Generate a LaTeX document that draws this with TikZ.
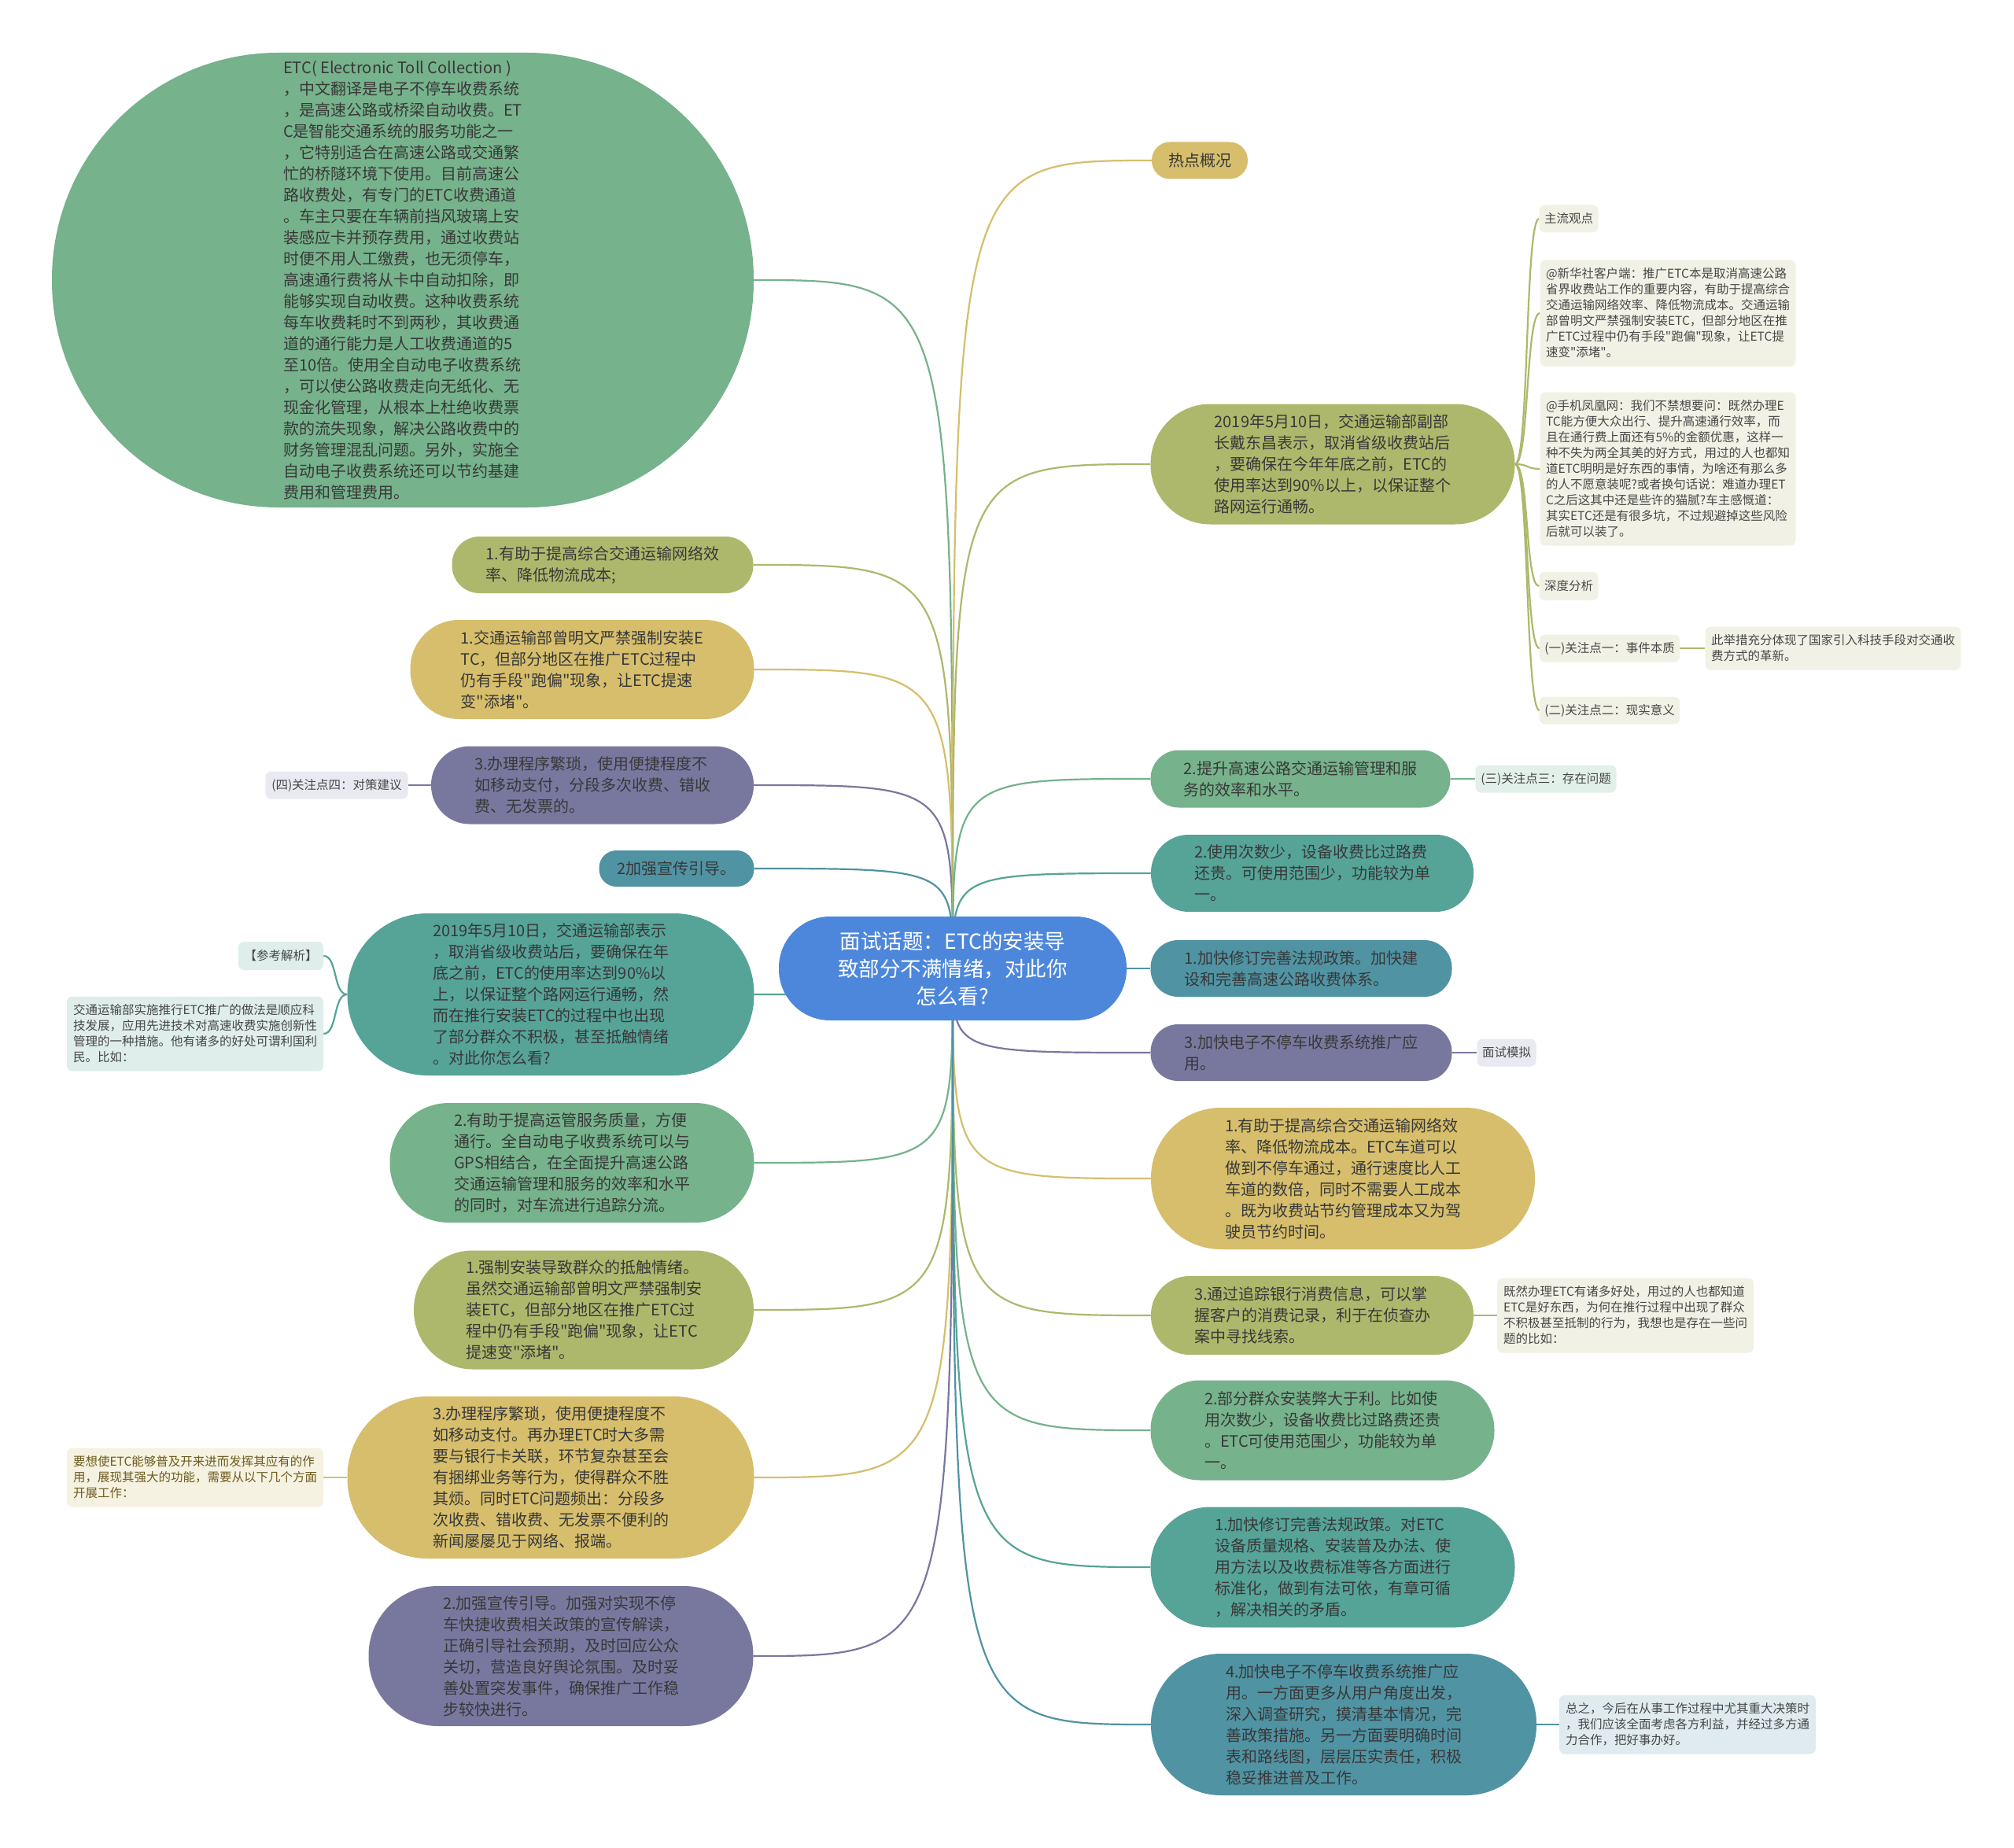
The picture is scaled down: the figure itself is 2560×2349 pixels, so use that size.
\documentclass[tikz,border=0pt]{standalone}
\usepackage{fontspec}
\newfontfamily\cjk{Noto Sans CJK SC}
\usetikzlibrary{backgrounds}

\definecolor{cGreen}{HTML}{76B28B}
\definecolor{cOlive}{HTML}{AEB86C}
\definecolor{cYellow}{HTML}{D6BE6C}
\definecolor{cPurple}{HTML}{78789F}
\definecolor{cTeal}{HTML}{5093A3}
\definecolor{cSea}{HTML}{56A397}
\definecolor{cBlue}{HTML}{4D87DC}
\definecolor{bLav}{HTML}{E9E9F1}
\definecolor{bTeal}{HTML}{DFEEEB}
\definecolor{bCream}{HTML}{F6F2E1}
\definecolor{bOlive}{HTML}{F1F2E5}
\definecolor{bGreen}{HTML}{E3F0EA}
\definecolor{bBlue}{HTML}{DFEBEF}

\tikzset{
  root/.style={fill=cBlue, text=white, align=center, inner sep=0pt,
    font=\cjk\fontsize{26.5pt}{35pt}\selectfont},
  topic/.style={text=black!78, align=left, inner sep=0pt,
    font=\cjk\fontsize{20pt}{27pt}\selectfont},
  leaf/.style={rounded corners=7pt, text=black!72, align=left, inner sep=0pt,
    font=\cjk\fontsize{15.5pt}{20pt}\selectfont},
  link/.style={draw=#1, line width=2.2pt},
}

\begin{document}
\begin{tikzpicture}[x=1pt, y=-1pt]
\useasboundingbox (0,0) rectangle (2560,2349);
% centre
\node[root, minimum width=442pt, minimum height=132pt, rounded corners=65pt] (c) at (1211,1231)
  {面试话题：ETC的安装导\\致部分不满情绪，对此你\\怎么看?};

% left side
\node[topic, fill=cGreen, minimum width=892pt, minimum height=578pt, rounded corners=288pt] (l1) at (512,356)
  {ETC( Electronic Toll Collection )\\，中文翻译是电子不停车收费系统\\，是高速公路或桥梁自动收费。ET\\C是智能交通系统的服务功能之一\\，它特别适合在高速公路或交通繁\\忙的桥隧环境下使用。目前高速公\\路收费处，有专门的ETC收费通道\\。车主只要在车辆前挡风玻璃上安\\装感应卡并预存费用，通过收费站\\时便不用人工缴费，也无须停车，\\高速通行费将从卡中自动扣除，即\\能够实现自动收费。这种收费系统\\每车收费耗时不到两秒，其收费通\\道的通行能力是人工收费通道的5\\至10倍。使用全自动电子收费系统\\，可以使公路收费走向无纸化、无\\现金化管理，从根本上杜绝收费票\\款的流失现象，解决公路收费中的\\财务管理混乱问题。另外，实施全\\自动电子收费系统还可以节约基建\\费用和管理费用。};
\node[topic, fill=cOlive, minimum width=383pt, minimum height=72pt, rounded corners=35pt] (l2) at (766,718)
  {1.有助于提高综合交通运输网络效\\率、降低物流成本;};
\node[topic, fill=cYellow, minimum width=437pt, minimum height=126pt, rounded corners=62pt] (l3) at (740,851)
  {1.交通运输部曾明文严禁强制安装E\\TC，但部分地区在推广ETC过程中\\仍有手段"跑偏"现象，让ETC提速\\变"添堵"。};
\node[topic, fill=cPurple, minimum width=410pt, minimum height=99pt, rounded corners=49pt] (l4) at (753,998)
  {3.办理程序繁琐，使用便捷程度不\\如移动支付，分段多次收费、错收\\费、无发票的。};
\node[leaf, fill=bLav, minimum width=181pt, minimum height=35pt] (l4a) at (428,998)
  {(四)关注点四：对策建议};
\node[topic, fill=cTeal, minimum width=197pt, minimum height=46pt, rounded corners=22pt] (l5) at (860,1104)
  {2加强宣传引导。};
\node[topic, fill=cSea, minimum width=517pt, minimum height=206pt, rounded corners=102pt] (l6) at (700,1264)
  {2019年5月10日，交通运输部表示\\，取消省级收费站后，要确保在年\\底之前，ETC的使用率达到90\%以\\上，以保证整个路网运行通畅，然\\而在推行安装ETC的过程中也出现\\了部分群众不积极，甚至抵触情绪\\。对此你怎么看?};
\node[leaf, fill=bTeal, minimum width=108pt, minimum height=36pt] (l6a) at (357,1215)
  {【参考解析】};
\node[leaf, fill=bTeal, minimum width=326pt, minimum height=95pt] (l6b) at (248,1314)
  {交通运输部实施推行ETC推广的做法是顺应科\\技发展，应用先进技术对高速收费实施创新性\\管理的一种措施。他有诸多的好处可谓利国利\\民。比如：};
\node[topic, fill=cGreen, minimum width=463pt, minimum height=152pt, rounded corners=75pt] (l7) at (727,1478)
  {2.有助于提高运管服务质量，方便\\通行。全自动电子收费系统可以与\\GPS相结合，在全面提升高速公路\\交通运输管理和服务的效率和水平\\的同时，对车流进行追踪分流。};
\node[topic, fill=cOlive, minimum width=432pt, minimum height=151pt, rounded corners=75pt] (l8) at (742,1665)
  {1.强制安装导致群众的抵触情绪。\\虽然交通运输部曾明文严禁强制安\\装ETC，但部分地区在推广ETC过\\程中仍有手段"跑偏"现象，让ETC\\提速变"添堵"。};
\node[topic, fill=cYellow, minimum width=517pt, minimum height=206pt, rounded corners=102pt] (l9) at (700,1878)
  {3.办理程序繁琐，使用便捷程度不\\如移动支付。再办理ETC时大多需\\要与银行卡关联，环节复杂甚至会\\有捆绑业务等行为，使得群众不胜\\其烦。同时ETC问题频出：分段多\\次收费、错收费、无发票不便利的\\新闻屡屡见于网络、报端。};
\node[leaf, fill=bCream, text={rgb,255:red,107;green,91;blue,31}, minimum width=326pt, minimum height=75pt] (l9a) at (248,1878)
  {要想使ETC能够普及开来进而发挥其应有的作\\用，展现其强大的功能，需要从以下几个方面\\开展工作：};
\node[topic, fill=cPurple, minimum width=489pt, minimum height=178pt, rounded corners=88pt] (l10) at (713,2105)
  {2.加强宣传引导。加强对实现不停\\车快捷收费相关政策的宣传解读，\\正确引导社会预期，及时回应公众\\关切，营造良好舆论氛围。及时妥\\善处置突发事件，确保推广工作稳\\步较快进行。};

% right side
\node[topic, fill=cYellow, minimum width=122pt, minimum height=47pt, rounded corners=23pt] (r1) at (1525,204)
  {热点概况};
\node[topic, fill=cOlive, minimum width=463pt, minimum height=153pt, rounded corners=76pt] (r2) at (1694,590)
  {2019年5月10日，交通运输部副部\\长戴东昌表示，取消省级收费站后\\，要确保在今年年底之前，ETC的\\使用率达到90\%以上，以保证整个\\路网运行通畅。};
\node[leaf, fill=bOlive, minimum width=75pt, minimum height=35pt] (r2a) at (1994,278) {主流观点};
\node[leaf, fill=bOlive, minimum width=325pt, minimum height=135pt] (r2b) at (2120,398)
  {@新华社客户端：推广ETC本是取消高速公路\\省界收费站工作的重要内容，有助于提高综合\\交通运输网络效率、降低物流成本。交通运输\\部曾明文严禁强制安装ETC，但部分地区在推\\广ETC过程中仍有手段"跑偏"现象，让ETC提\\速变"添堵"。};
\node[leaf, fill=bOlive, minimum width=325pt, minimum height=195pt] (r2c) at (2120,596)
  {@手机凤凰网：我们不禁想要问：既然办理E\\TC能方便大众出行、提升高速通行效率，而\\且在通行费上面还有5\%的金额优惠，这样一\\种不失为两全其美的好方式，用过的人也都知\\道ETC明明是好东西的事情，为啥还有那么多\\的人不愿意装呢?或者换句话说：难道办理ET\\C之后这其中还是些许的猫腻?车主感慨道：\\其实ETC还是有很多坑，不过规避掉这些风险\\后就可以装了。};
\node[leaf, fill=bOlive, minimum width=75pt, minimum height=36pt] (r2d) at (1994,745) {深度分析};
\node[leaf, fill=bOlive, minimum width=178pt, minimum height=35pt] (r2e) at (2046,824) {(一)关注点一：事件本质};
\node[leaf, fill=bOlive, minimum width=325pt, minimum height=55pt] (r2g) at (2330,824)
  {此举措充分体现了国家引入科技手段对交通收\\费方式的革新。};
\node[leaf, fill=bOlive, minimum width=178pt, minimum height=35pt] (r2f) at (2046,903) {(二)关注点二：现实意义};
\node[topic, fill=cGreen, minimum width=381pt, minimum height=73pt, rounded corners=36pt] (r3) at (1653,990)
  {2.提升高速公路交通运输管理和服\\务的效率和水平。};
\node[leaf, fill=bGreen, minimum width=179pt, minimum height=35pt] (r3a) at (1965,990) {(三)关注点三：存在问题};
\node[topic, fill=cSea, minimum width=410pt, minimum height=98pt, rounded corners=48pt] (r4) at (1668,1110)
  {2.使用次数少，设备收费比过路费\\还贵。可使用范围少，功能较为单\\一。};
\node[topic, fill=cTeal, minimum width=383pt, minimum height=72pt, rounded corners=35pt] (r5) at (1654,1231)
  {1.加快修订完善法规政策。加快建\\设和完善高速公路收费体系。};
\node[topic, fill=cPurple, minimum width=383pt, minimum height=72pt, rounded corners=35pt] (r6) at (1654,1338)
  {3.加快电子不停车收费系统推广应\\用。};
\node[leaf, fill=bLav, minimum width=75pt, minimum height=35pt] (r6a) at (1915,1338) {面试模拟};
\node[topic, fill=cYellow, minimum width=488pt, minimum height=180pt, rounded corners=89pt] (r7) at (1707,1498)
  {1.有助于提高综合交通运输网络效\\率、降低物流成本。ETC车道可以\\做到不停车通过，通行速度比人工\\车道的数倍，同时不需要人工成本\\。既为收费站节约管理成本又为驾\\驶员节约时间。};
\node[topic, fill=cOlive, minimum width=410pt, minimum height=100pt, rounded corners=49pt] (r8) at (1668,1672)
  {3.通过追踪银行消费信息，可以掌\\握客户的消费记录，利于在侦查办\\案中寻找线索。};
\node[leaf, fill=bOlive, minimum width=326pt, minimum height=95pt] (r8a) at (2066,1672)
  {既然办理ETC有诸多好处，用过的人也都知道\\ETC是好东西，为何在推行过程中出现了群众\\不积极甚至抵制的行为，我想也是存在一些问\\题的比如：};
\node[topic, fill=cGreen, minimum width=437pt, minimum height=127pt, rounded corners=63pt] (r9) at (1681,1818)
  {2.部分群众安装弊大于利。比如使\\用次数少，设备收费比过路费还贵\\。ETC可使用范围少，功能较为单\\一。};
\node[topic, fill=cSea, minimum width=463pt, minimum height=153pt, rounded corners=76pt] (r10) at (1694,1992)
  {1.加快修订完善法规政策。对ETC\\设备质量规格、安装普及办法、使\\用方法以及收费标准等各方面进行\\标准化，做到有法可依，有章可循\\，解决相关的矛盾。};
\node[topic, fill=cTeal, minimum width=490pt, minimum height=180pt, rounded corners=89pt] (r11) at (1708,2192)
  {4.加快电子不停车收费系统推广应\\用。一方面更多从用户角度出发，\\深入调查研究，摸清基本情况，完\\善政策措施。另一方面要明确时间\\表和路线图，层层压实责任，积极\\稳妥推进普及工作。};
\node[leaf, fill=bBlue, minimum width=326pt, minimum height=75pt] (r11a) at (2145,2192)
  {总之，今后在从事工作过程中尤其重大决策时\\，我们应该全面考虑各方利益，并经过多方通\\力合作，把好事办好。};

% connectors
\begin{scope}[on background layer]
\fill[white] (0,0) rectangle (2560,2349);
\foreach \n/\col in {l1/cGreen,l2/cOlive,l3/cYellow,l4/cPurple,l5/cTeal,l6/cSea,l7/cGreen,l8/cOlive,l9/cYellow,l10/cPurple}
  \draw[link=\col] (c.center) .. controls (c.center |- \n.east) .. (\n.east);
\foreach \n/\col in {r1/cYellow,r2/cOlive,r3/cGreen,r4/cSea,r5/cTeal,r6/cPurple,r7/cYellow,r8/cOlive,r9/cGreen,r10/cSea,r11/cTeal}
  \draw[link=\col] (c.center) .. controls (c.center |- \n.west) .. (\n.west);
\foreach \n in {r2a,r2b,r2c,r2d,r2e,r2f}
  \draw[link=cOlive] (r2.east) .. controls +(18,0) and +(-18,0) .. (\n.west);
\foreach \n in {l6a,l6b}
  \draw[link=cSea] (l6.west) .. controls +(-18,0) and +(18,0) .. (\n.east);
\draw[link=cOlive] (r2e) -- (r2g);
\draw[link=cPurple] (l4) -- (l4a);
\draw[link=cYellow] (l9) -- (l9a);
\draw[link=cGreen] (r3) -- (r3a);
\draw[link=cPurple] (r6) -- (r6a);
\draw[link=cOlive] (r8) -- (r8a);
\draw[link=cTeal] (r11) -- (r11a);
\end{scope}
\end{tikzpicture}
\end{document}
